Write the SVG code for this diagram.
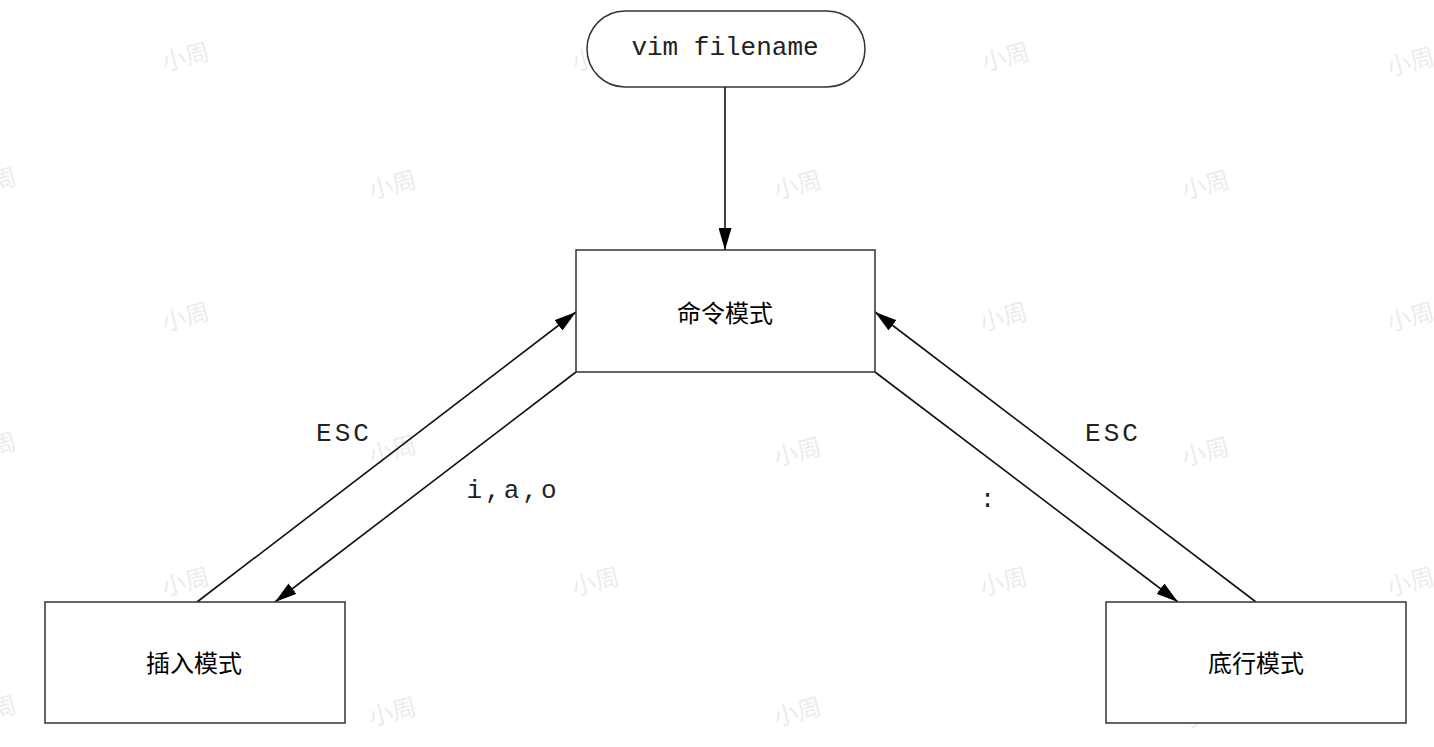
<svg xmlns="http://www.w3.org/2000/svg" width="1434" height="747" viewBox="0 0 1434 747">
<style>
.box{fill:#fff;stroke:#333;stroke-width:1.5}
.cn{font-family:"Noto Sans CJK SC","Noto Sans",sans-serif;font-size:24px;fill:#000;text-anchor:middle;dominant-baseline:central}
.mono{font-family:"Liberation Mono","Courier New",monospace;font-size:26px;fill:#222;text-anchor:middle;dominant-baseline:central}
.lbl{font-family:"Liberation Mono","Courier New",monospace;font-size:26px;letter-spacing:3px;fill:#222;text-anchor:middle;dominant-baseline:central}
.edge{stroke:#111;stroke-width:1.6;fill:none;marker-end:url(#ah)}
.wm{font-family:"Noto Sans CJK SC",sans-serif;font-size:24px;fill:#ececec;text-anchor:middle;dominant-baseline:central}
</style>
<defs>
<marker id="ah" viewBox="0 0 22 13" refX="22" refY="6.5" markerWidth="22" markerHeight="13" markerUnits="userSpaceOnUse" orient="auto">
<path d="M0,0 L22,6.5 L0,13 Z" fill="#000"/>
</marker>
</defs>
<rect width="1434" height="747" fill="#fff"/>
<g id="watermarks">
<text class="wm" transform="translate(185,55) rotate(-15)">小周</text>
<text class="wm" transform="translate(595,55) rotate(-15)">小周</text>
<text class="wm" transform="translate(1005,55) rotate(-15)">小周</text>
<text class="wm" transform="translate(1410,60) rotate(-15)">小周</text>
<text class="wm" transform="translate(-8,180) rotate(-15)">小周</text>
<text class="wm" transform="translate(392,183) rotate(-15)">小周</text>
<text class="wm" transform="translate(797,183) rotate(-15)">小周</text>
<text class="wm" transform="translate(1205,183) rotate(-15)">小周</text>
<text class="wm" transform="translate(185,315) rotate(-15)">小周</text>
<text class="wm" transform="translate(595,315) rotate(-15)">小周</text>
<text class="wm" transform="translate(1003,315) rotate(-15)">小周</text>
<text class="wm" transform="translate(1410,315) rotate(-15)">小周</text>
<text class="wm" transform="translate(-8,445) rotate(-15)">小周</text>
<text class="wm" transform="translate(392,448) rotate(-15)">小周</text>
<text class="wm" transform="translate(797,450) rotate(-15)">小周</text>
<text class="wm" transform="translate(1205,450) rotate(-15)">小周</text>
<text class="wm" transform="translate(185,580) rotate(-15)">小周</text>
<text class="wm" transform="translate(595,580) rotate(-15)">小周</text>
<text class="wm" transform="translate(1003,580) rotate(-15)">小周</text>
<text class="wm" transform="translate(1410,580) rotate(-15)">小周</text>
<text class="wm" transform="translate(-8,708) rotate(-15)">小周</text>
<text class="wm" transform="translate(392,710) rotate(-15)">小周</text>
<text class="wm" transform="translate(797,710) rotate(-15)">小周</text>
<text class="wm" transform="translate(1205,712) rotate(-15)">小周</text>
</g>
<g id="connectors">
<line class="edge" x1="725" y1="87" x2="725" y2="250"/>
<line class="edge" x1="197" y1="602" x2="576" y2="312"/>
<line class="edge" x1="576" y1="372" x2="275" y2="602"/>
<line class="edge" x1="875" y1="372" x2="1178" y2="602"/>
<line class="edge" x1="1256" y1="602" x2="875" y2="312"/>
<text class="lbl" x="344" y="434">ESC</text>
<text class="lbl" x="513" y="491">i,a,o</text>
<text class="lbl" x="989" y="500">:</text>
<text class="lbl" x="1113" y="434">ESC</text>
</g>
<g id="start">
<rect class="box" x="587" y="11" width="278" height="76" rx="38" ry="38"/>
<text class="mono" x="725" y="48">vim filename</text>
</g>
<g id="command">
<rect class="box" x="576" y="250" width="299" height="122"/>
<text class="cn" x="725" y="311">命令模式</text>
</g>
<g id="insert">
<rect class="box" x="45" y="602" width="300" height="121"/>
<text class="cn" x="194" y="661">插入模式</text>
</g>
<g id="lastline">
<rect class="box" x="1106" y="602" width="300" height="121"/>
<text class="cn" x="1256" y="661">底行模式</text>
</g>
</svg>
